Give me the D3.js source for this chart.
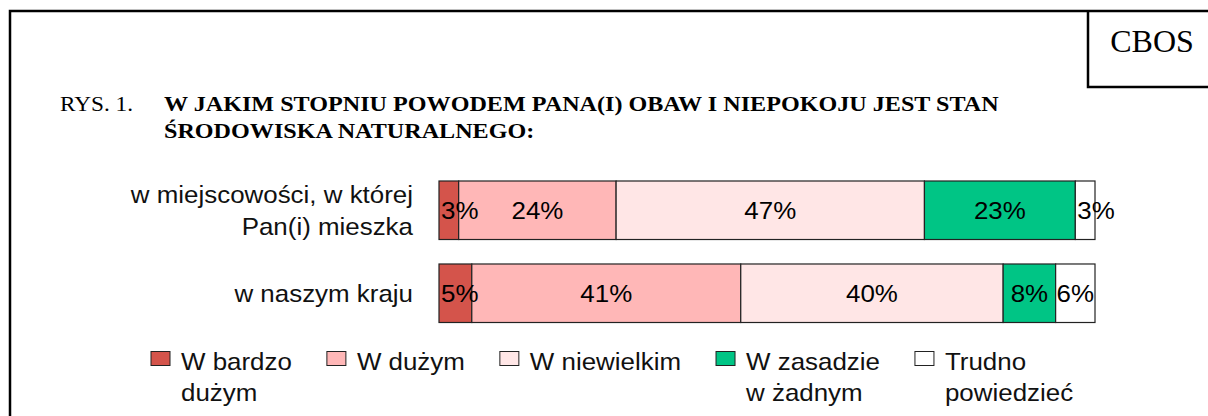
<!DOCTYPE html>
<html>
<head>
<meta charset="utf-8">
<script src="https://cdn.jsdelivr.net/npm/d3@7"></script>
<style>
  body { margin: 0; background: #fff; }
  svg { display: block; }
  .sans { font-family: "Liberation Sans", Arial, sans-serif; }
  .serif { font-family: "Liberation Serif", "Times New Roman", serif; }
</style>
</head>
<body>
<svg width="1208" height="416"></svg>
<script>
var svg = d3.select('svg');
var width = +svg.attr('width');
var height = +svg.attr('height');

// data
var categories = [['w miejscowości, w której', 'Pan(i) mieszka'], ['w naszym kraju']];
var seriesNames = [['W bardzo', 'dużym'], ['W dużym'], ['W niewielkim'], ['W zasadzie', 'w żadnym'], ['Trudno', 'powiedzieć']];
var seriesColors = ['#d4544b', '#ffb7b7', '#ffe6e6', '#00c585', '#ffffff'];
var values = [
  [3, 24, 47, 23, 3],
  [5, 41, 40, 8, 6]
];
var titleNo = 'RYS. 1.';
var titleLines = ['W JAKIM STOPNIU POWODEM PANA(I) OBAW I NIEPOKOJU JEST STAN', 'ŚRODOWISKA NATURALNEGO:'];
var sourceLabel = 'CBOS';

var SX = 1.08; // sans text in the original is slightly wide

// frame
svg.append('path')
  .attr('d', 'M10,' + (height + 5) + 'V11H' + (width + 5))
  .attr('fill', 'none').attr('stroke', '#000').attr('stroke-width', 2.5);
svg.append('path')
  .attr('d', 'M1088,11V87H' + (width + 5))
  .attr('fill', 'none').attr('stroke', '#000').attr('stroke-width', 2.5);
svg.append('text').attr('class', 'serif')
  .attr('x', 1152).attr('y', 52).attr('text-anchor', 'middle')
  .attr('font-size', 32).text(sourceLabel);

// title
svg.append('text').attr('class', 'serif')
  .attr('x', 60).attr('y', 111).attr('font-size', 20)
  .attr('textLength', 73).attr('lengthAdjust', 'spacingAndGlyphs')
  .text(titleNo);
var tl = svg.selectAll('.tline').data(titleLines).enter()
  .append('text').attr('class', 'serif tline')
  .attr('font-size', 20).attr('font-weight', 'bold')
  .text(function(d) { return d; });
var k = 835 / tl.node().getComputedTextLength();
tl.attr('transform', function(d, i) {
  return 'translate(164,' + (111 + i * 27) + ') scale(' + k + ',1)';
});

// scales
var x = d3.scaleLinear().domain([0, 100]).range([439, 1095]);
var y = d3.scaleBand().domain(d3.range(categories.length)).range([181, 322.5])
  .paddingInner(0.295).paddingOuter(0);

var rows = values.map(function(vals, r) {
  var acc = 0;
  return vals.map(function(v, s) {
    var seg = { row: r, s: s, v: v, x0: acc, x1: acc + v };
    acc += v;
    return seg;
  });
});

// category labels
categories.forEach(function(lines, r) {
  var cy = y(r) + y.bandwidth() / 2 + 8.5;
  svg.selectAll('.cat' + r).data(lines).enter()
    .append('text').attr('class', 'sans cat' + r)
    .attr('font-size', 24).attr('fill', '#111').attr('text-anchor', 'end')
    .attr('transform', function(d, i) {
      return 'translate(413,' + (cy + (i - (lines.length - 1) / 2) * 31.7) + ') scale(' + SX + ',1)';
    })
    .text(function(d) { return d; });
});

// bars
var g = svg.append('g');
rows.forEach(function(segs, r) {
  g.selectAll('.seg' + r).data(segs).enter()
    .append('rect').attr('class', 'seg' + r)
    .attr('x', function(d) { return x(d.x0); })
    .attr('y', y(r))
    .attr('width', function(d) { return x(d.x1) - x(d.x0); })
    .attr('height', y.bandwidth())
    .attr('fill', function(d) { return seriesColors[d.s]; })
    .attr('stroke', '#222').attr('stroke-width', 1.2);

  g.selectAll('.lab' + r).data(segs).enter()
    .append('text').attr('class', 'sans lab' + r)
    .attr('font-size', 24).attr('fill', '#000')
    .text(function(d) { return d.v + '%'; })
    .each(function(d) {
      var w = this.getComputedTextLength() * SX;
      var segW = x(d.x1) - x(d.x0);
      var cx = segW < w ? x(d.x0) + 2 + w / 2 : (x(d.x0) + x(d.x1)) / 2;
      d3.select(this).attr('text-anchor', 'middle')
        .attr('transform', 'translate(' + cx + ',' + (y(r) + y.bandwidth() / 2 + 9) + ') scale(' + SX + ',1)');
    });
});

// legend: items flow left to right, each as wide as its longest line
var legGap = 35, legText = 30;
var leg = svg.selectAll('.leg').data(seriesNames).enter()
  .append('g').attr('class', 'leg');
leg.append('rect')
  .attr('width', 19).attr('height', 14)
  .attr('fill', function(d, i) { return seriesColors[i]; })
  .attr('stroke', '#222').attr('stroke-width', 1);
leg.each(function(lines) {
  d3.select(this).selectAll('text').data(lines).enter()
    .append('text').attr('class', 'sans')
    .attr('font-size', 24).attr('fill', '#111')
    .attr('transform', function(d, i) {
      return 'translate(' + legText + ',' + (18 + i * 31.7) + ') scale(' + SX + ',1)';
    })
    .text(function(d) { return d; });
});
var lx = 151;
leg.each(function() {
  var w = d3.max(d3.select(this).selectAll('text').nodes(), function(n) {
    return n.getComputedTextLength() * SX;
  });
  d3.select(this).attr('transform', 'translate(' + lx + ',351.5)');
  lx += legText + w + legGap;
});
</script>
</body>
</html>
